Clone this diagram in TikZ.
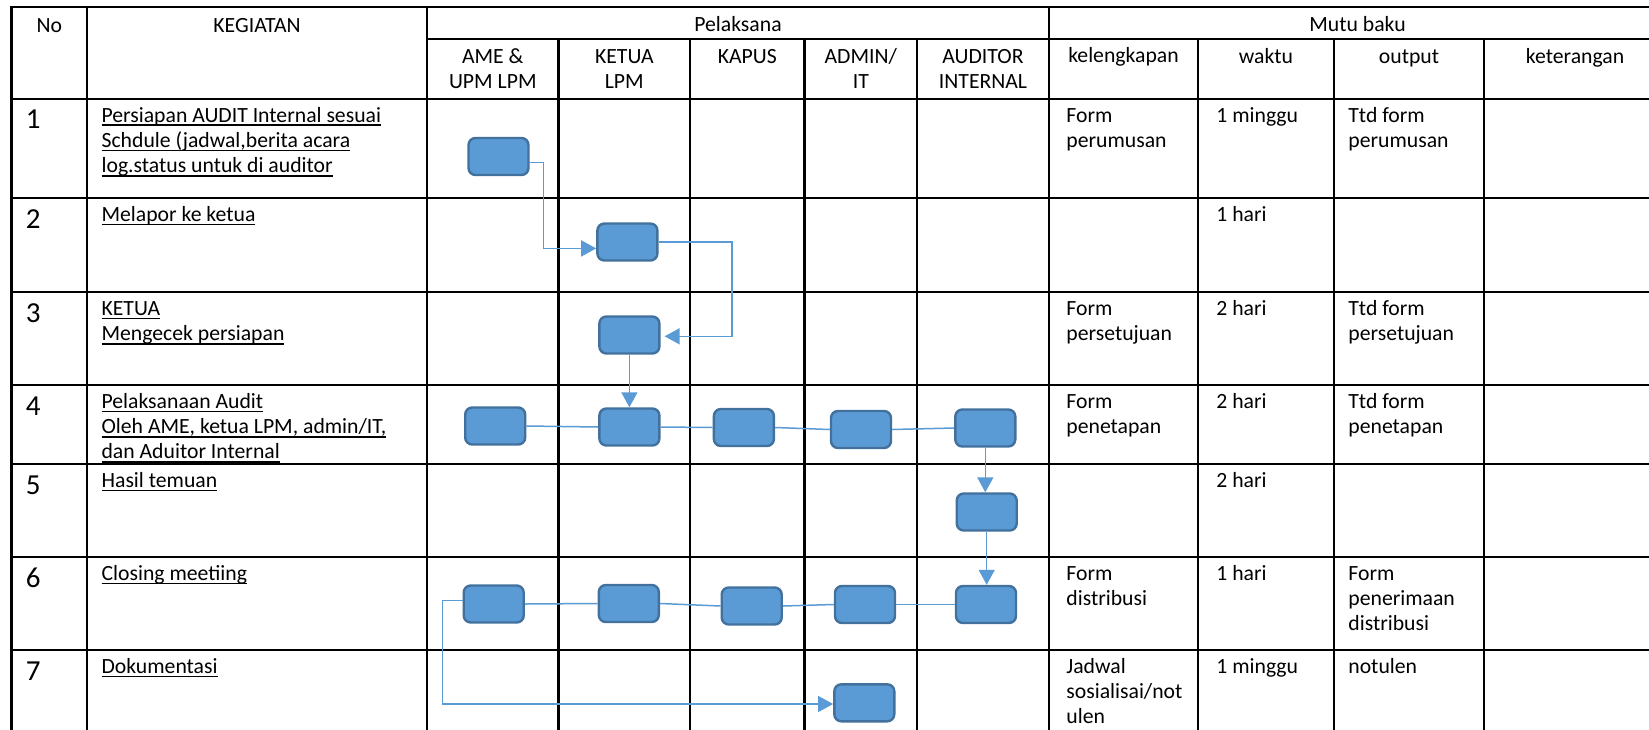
\documentclass[tikz,border=0pt]{standalone}
\usepackage{fontspec}
\setmainfont{Carlito}
\usetikzlibrary{arrows.meta,calc}
\definecolor{boxfill}{HTML}{5B9BD5}
\definecolor{boxline}{HTML}{41719C}
\newcommand\tf{\fontsize{10.85}{12.6}\selectfont}
\newcommand\nf{\fontsize{14.5}{17}\selectfont}
\newcommand\myul[1]{\setbox0=\hbox{#1}\rlap{\rule[-2pt]{\wd0}{0.85pt}}\box0}
\begin{document}
\begin{tikzpicture}[x=0.5pt,y=-0.5pt,
  grid/.style={line width=1.15pt,black,line cap=rect},
  proc/.style={draw=boxline,fill=boxfill,line width=1.2pt,rounded corners=3.5pt,minimum width=30pt,minimum height=18.5pt,inner sep=0pt},
  conn/.style={draw=boxfill,line width=0.75pt},
  arr/.style={conn,-{Triangle[length=7.5pt,width=8pt]}},
  hd/.style={font=\tf,anchor=base,inner sep=0pt},
  sub/.style={font=\tf,align=center,anchor=north,inner sep=0pt},
  cell/.style={font=\tf,align=left,anchor=north west,inner sep=0pt},
  num/.style={font=\nf,anchor=base west,inner sep=0pt}]
\useasboundingbox (0,0) rectangle (1649,729);
\fill[white] (0,0) rectangle (1649,729);
\begin{scope}
\clip (0,0) rectangle (1649,729);
% horizontal rules
\draw[grid] (11.5,7.3) -- (1700,7.3);
\draw[grid] (427,39) -- (1700,39);
\foreach \yy in {98.7,198,292,385,464,557,650}{\draw[grid] (11.5,\yy) -- (1700,\yy);}
% vertical rules
\foreach \xx in {11.5,87.3,427,1049}{\draw[grid] (\xx,7.3) -- (\xx,760);}
\foreach \xx in {558.5,690,804.5,917,1198,1334,1484}{\draw[grid] (\xx,39) -- (\xx,760);}
\end{scope}

% header
\node[hd] (hno) at (49.4,32) {No};
\node[hd] (hkeg) at (257,32) {KEGIATAN};
\node[hd] (hpel) at (738,31) {Pelaksana};
\node[hd] (hmutu) at (1357.5,31) {Mutu baku};
\node[sub] (hame) at (492.8,45.4) {\strut AME \&\\UPM LPM};
\node[sub] (hket) at (624.3,45.4) {\strut KETUA\\LPM};
\node[sub] (hkap) at (747.3,45.4) {\strut KAPUS};
\node[sub] (hadm) at (860.8,45.4) {\strut ADMIN/\\IT};
\node[sub] (haud) at (983,45.4) {\strut AUDITOR\\INTERNAL};
\node[sub] (hkel) at (1123.5,44.4) {\strut kelengkapan};
\node[sub] (hwak) at (1266,45.4) {\strut waktu};
\node[sub] (hout) at (1409,45.4) {\strut output};
\node[sub] (hktr) at (1575,45.4) {\strut keterangan};

% numbers
\node[num] (n1) at (25.5,128.7) {1};
\node[num] (n2) at (25.5,228) {2};
\node[num] (n3) at (25.5,322) {3};
\node[num] (n4) at (25.5,415) {4};
\node[num] (n5) at (25.5,494) {5};
\node[num] (n6) at (25.5,587) {6};
\node[num] (n7) at (25.5,680) {7};

% kegiatan
\node[cell] (k1) at (101.2,104.1) {\strut\myul{Persiapan AUDIT Internal sesuai}\\\myul{Schdule (jadwal,berita acara}\\\myul{log.status untuk di auditor}};
\node[cell] (k2) at (101.2,203.4) {\strut\myul{Melapor ke ketua}};
\node[cell] (k3) at (101.2,297.4) {\strut\myul{KETUA}\\\myul{Mengecek persiapan}};
\node[cell] (k4) at (101.2,390.4) {\strut\myul{Pelaksanaan Audit}\\\myul{Oleh AME, ketua LPM, admin/IT,}\\\myul{dan Aduitor Internal}};
\node[cell] (k5) at (101.2,469.4) {\strut\myul{Hasil temuan}};
\node[cell] (k6) at (101.2,562.4) {\strut\myul{Closing meetiing}};
\node[cell] (k7) at (101.2,655.4) {\strut\myul{Dokumentasi}};

% mutu baku
\node[cell] (m1a) at (1066,104.1) {\strut Form\\perumusan};
\node[cell] (m1b) at (1216,104.1) {\strut 1 minggu};
\node[cell] (m1c) at (1348,104.1) {\strut Ttd form\\perumusan};
\node[cell] (m2b) at (1216,203.4) {\strut 1 hari};
\node[cell] (m3a) at (1066,297.4) {\strut Form\\persetujuan};
\node[cell] (m3b) at (1216,297.4) {\strut 2 hari};
\node[cell] (m3c) at (1348,297.4) {\strut Ttd form\\persetujuan};
\node[cell] (m4a) at (1066,390.4) {\strut Form\\penetapan};
\node[cell] (m4b) at (1216,390.4) {\strut 2 hari};
\node[cell] (m4c) at (1348,390.4) {\strut Ttd form\\penetapan};
\node[cell] (m5b) at (1216,469.4) {\strut 2 hari};
\node[cell] (m6a) at (1066,562.4) {\strut Form\\distribusi};
\node[cell] (m6b) at (1216,562.4) {\strut 1 hari};
\node[cell] (m6c) at (1348,562.4) {\strut Form\\penerimaan\\distribusi};
\node[cell] (m7a) at (1066,655.4) {\strut Jadwal\\sosialisai/not\\ulen};
\node[cell] (m7b) at (1216,655.4) {\strut 1 minggu};
\node[cell] (m7c) at (1348,655.4) {\strut notulen};

% process boxes
\node[proc] (b1) at (498.5,156.5) {};
\node[proc] (b2) at (627.4,242) {};
\node[proc] (b3) at (629.4,335) {};
\node[proc] (b4a) at (495.2,426) {};
\node[proc] (b4b) at (629.4,427) {};
\node[proc] (b4c) at (743.9,427.5) {};
\node[proc] (b4d) at (861,429.5) {};
\node[proc] (b4e) at (985.3,428) {};
\node[proc] (b5) at (986.7,512) {};
\node[proc] (b6a) at (493.7,604) {};
\node[proc] (b6b) at (628.8,603.5) {};
\node[proc] (b6c) at (751.7,606) {};
\node[proc] (b6d) at (865,604.5) {};
\node[proc] (b6e) at (986,604.5) {};
\node[proc] (b7) at (864.3,702.8) {};

% bend points
\coordinate (k1b) at (543.5,248.4);
\coordinate (k2b) at (732,336.3);
\coordinate (k3b) at (442.5,704);

% connectors
\draw[arr] ([yshift=-3pt]b1.east) -| (k1b) -- (k1b -| b2.west);
\draw[arr] (b2.east) -| (k2b) -- ([xshift=2pt]k2b -| b3.east);
\draw[arr] (b3.south) -- (b3.south |- b4b.north);
\draw[conn] (b4a.east) -- (b4b.west);
\draw[conn] (b4b.east) -- (b4c.west);
\draw[conn] (b4c.east) -- (b4d.west);
\draw[conn] (b4d.east) -- (b4e.west);
\draw[arr] (b4e.south) -- (b4e.south |- b5.north);
\draw[arr] (b5.south) -- (b5.south |- b6e.north);
\draw[conn] (b6a.east) -- (b6b.west);
\draw[conn] (b6b.east) -- (b6c.west);
\draw[conn] (b6c.east) -- (b6d.west);
\draw[conn] (b6d.east) -- (b6e.west);
\draw[arr] ([yshift=1.85pt]b6a.west) -| (k3b) -- (k3b -| b7.west);
\end{tikzpicture}
\end{document}
